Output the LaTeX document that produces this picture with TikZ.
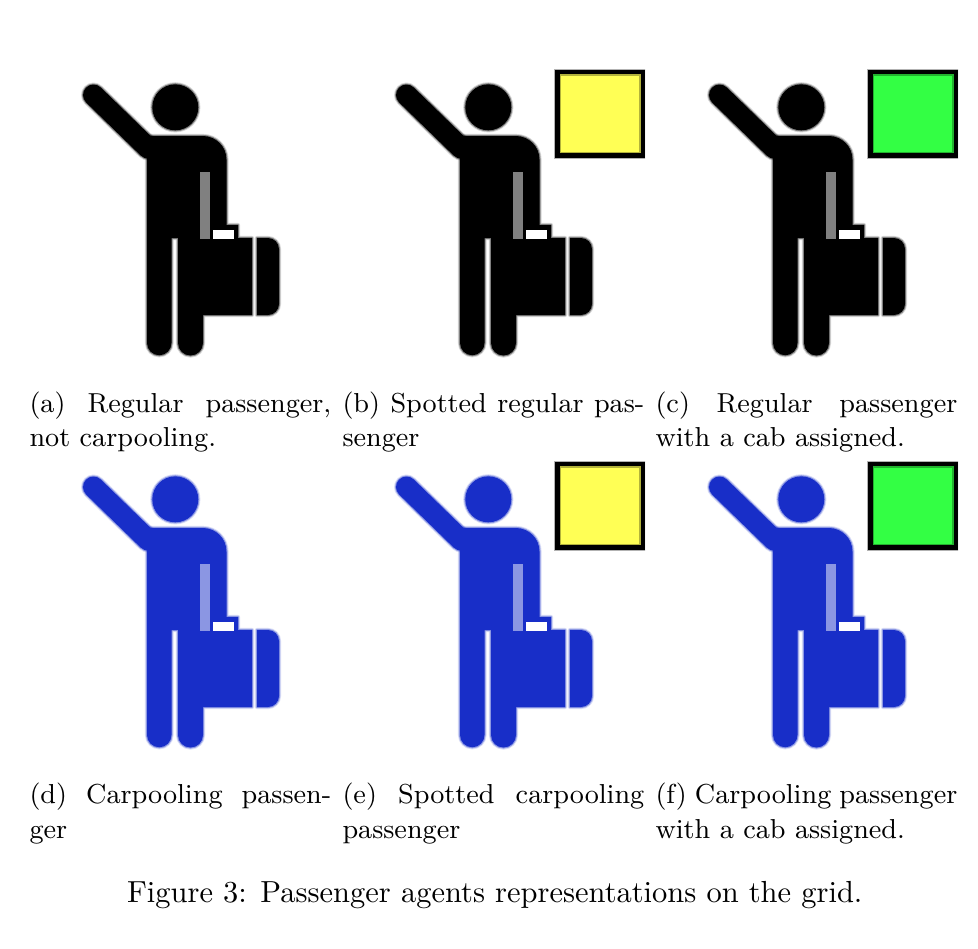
\documentclass[tikz,border=0pt]{standalone}
\def\pxu{0.328pt}
\definecolor{ink}{RGB}{0,0,0}
\definecolor{carpool}{RGB}{24,46,200}
\definecolor{spotted}{RGB}{255,255,85}
\definecolor{assigned}{RGB}{51,255,68}
\tikzset{
  captionline/.style={anchor=base west,inner sep=0pt,outer sep=0pt},
  subline/.style={captionline,font=\small},
  softedge/.style={line width=2.2*\pxu,opacity=.4,line join=round},
  softeredge/.style={line width=4.2*\pxu,opacity=.16,line join=round},
  flagbox/.style={draw=black,line width=4.6*\pxu,line join=miter},
  flagblur/.style={draw=black,line width=7.6*\pxu,opacity=.3,line join=miter},
}
% silhouette outline, in pixel coordinates of the first panel
\newcommand{\bodyoutline}{
  (147,136) -- (203,136) arc[start angle=-90,end angle=0,radius=23.5]
  -- (226.5,225) -- (238,225) -- (238,238) -- (252,238) -- (252,315) -- (203,315)
  -- (203,343) arc[start angle=0,end angle=180,radius=12.5]
  -- (178,238) -- (171.5,238)
  -- (171.5,343) arc[start angle=0,end angle=180,radius=12.25]
  -- cycle
  (257,238) -- (268,238) arc[start angle=-90,end angle=0,radius=11]
  -- (279,304) arc[start angle=0,end angle=90,radius=11] -- (257,315) -- cycle
}
\newcommand{\passenger}[3]{% x shift, y shift, colour
  \begin{scope}[shift={(#1,#2)}]
    \draw[#3,softeredge] \bodyoutline;
    \draw[#3,softeredge] (175.3,107.3) circle[radius=23];
    \draw[#3,line width=25*\pxu,line cap=round,opacity=.16] (93.5,95) -- (148,148);
    \draw[#3,softedge] \bodyoutline;
    \draw[#3,softedge] (175.3,107.3) circle[radius=23];
    \draw[#3,line width=23*\pxu,line cap=round,opacity=.4] (93.5,95) -- (148,148);
    \fill[#3] \bodyoutline;
    \fill[#3] (175.3,107.3) circle[radius=23];
    \draw[#3,line width=21*\pxu,line cap=round] (93.5,95) -- (148,148);
    \fill[#3!50!white] (200,172) rectangle (209.5,239);
    \fill[white] (213,230) rectangle (233.5,239);
  \end{scope}
}
\newcommand{\flag}[3]{% x shift, y shift, colour
  \begin{scope}[shift={(#1,#2)}]
    \clip (540,69.5) rectangle (645,170);
    \fill[#3] (557.5,71.8) rectangle (643,155.3);
    \draw[flagblur] (557.5,71.8) rectangle (643,155.3);
    \draw[flagbox] (557.5,71.8) rectangle (643,155.3);
  \end{scope}
}
\begin{document}
\begin{tikzpicture}[x=\pxu,y=-\pxu]
  \useasboundingbox[fill=white] (0,0) rectangle (978,948);
  \passenger{0}{0}{ink}
  \passenger{313}{0}{ink}
  \passenger{626}{0}{ink}
  \passenger{0}{392}{carpool}
  \passenger{313}{392}{carpool}
  \passenger{626}{392}{carpool}
  \flag{0}{0}{spotted}
  \flag{313}{0}{assigned}
  \flag{0}{392}{spotted}
  \flag{313}{392}{assigned}
  \node[subline] (a1) at (29.5,412) {\makebox[99pt][s]{(a) Regular passenger,}};
  \node[subline] (a2) at (29.5,446) {not carpooling.};
  \node[subline] (b1) at (342.5,412) {\makebox[99pt][s]{(b) Spotted regular pas-}};
  \node[subline] (b2) at (342.5,446) {senger};
  \node[subline] (c1) at (655.5,412) {\makebox[99pt][s]{(c) Regular passenger}};
  \node[subline] (c2) at (655.5,446) {with a cab assigned.};
  \node[subline] (d1) at (29.5,803.5) {\makebox[99pt][s]{(d) Carpooling passen-}};
  \node[subline] (d2) at (29.5,838) {ger};
  \node[subline] (e1) at (342.5,803.5) {\makebox[99pt][s]{(e) Spotted carpooling}};
  \node[subline] (e2) at (342.5,838) {passenger};
  \node[subline] (f1) at (655.5,803.5) {\makebox[99pt][s]{(f) Carpooling passenger}};
  \node[subline] (f2) at (655.5,838) {with a cab assigned.};
  \node[captionline] (fig) at (127,902) {Figure 3: Passenger agents representations on the grid.};
\end{tikzpicture}
\end{document}
